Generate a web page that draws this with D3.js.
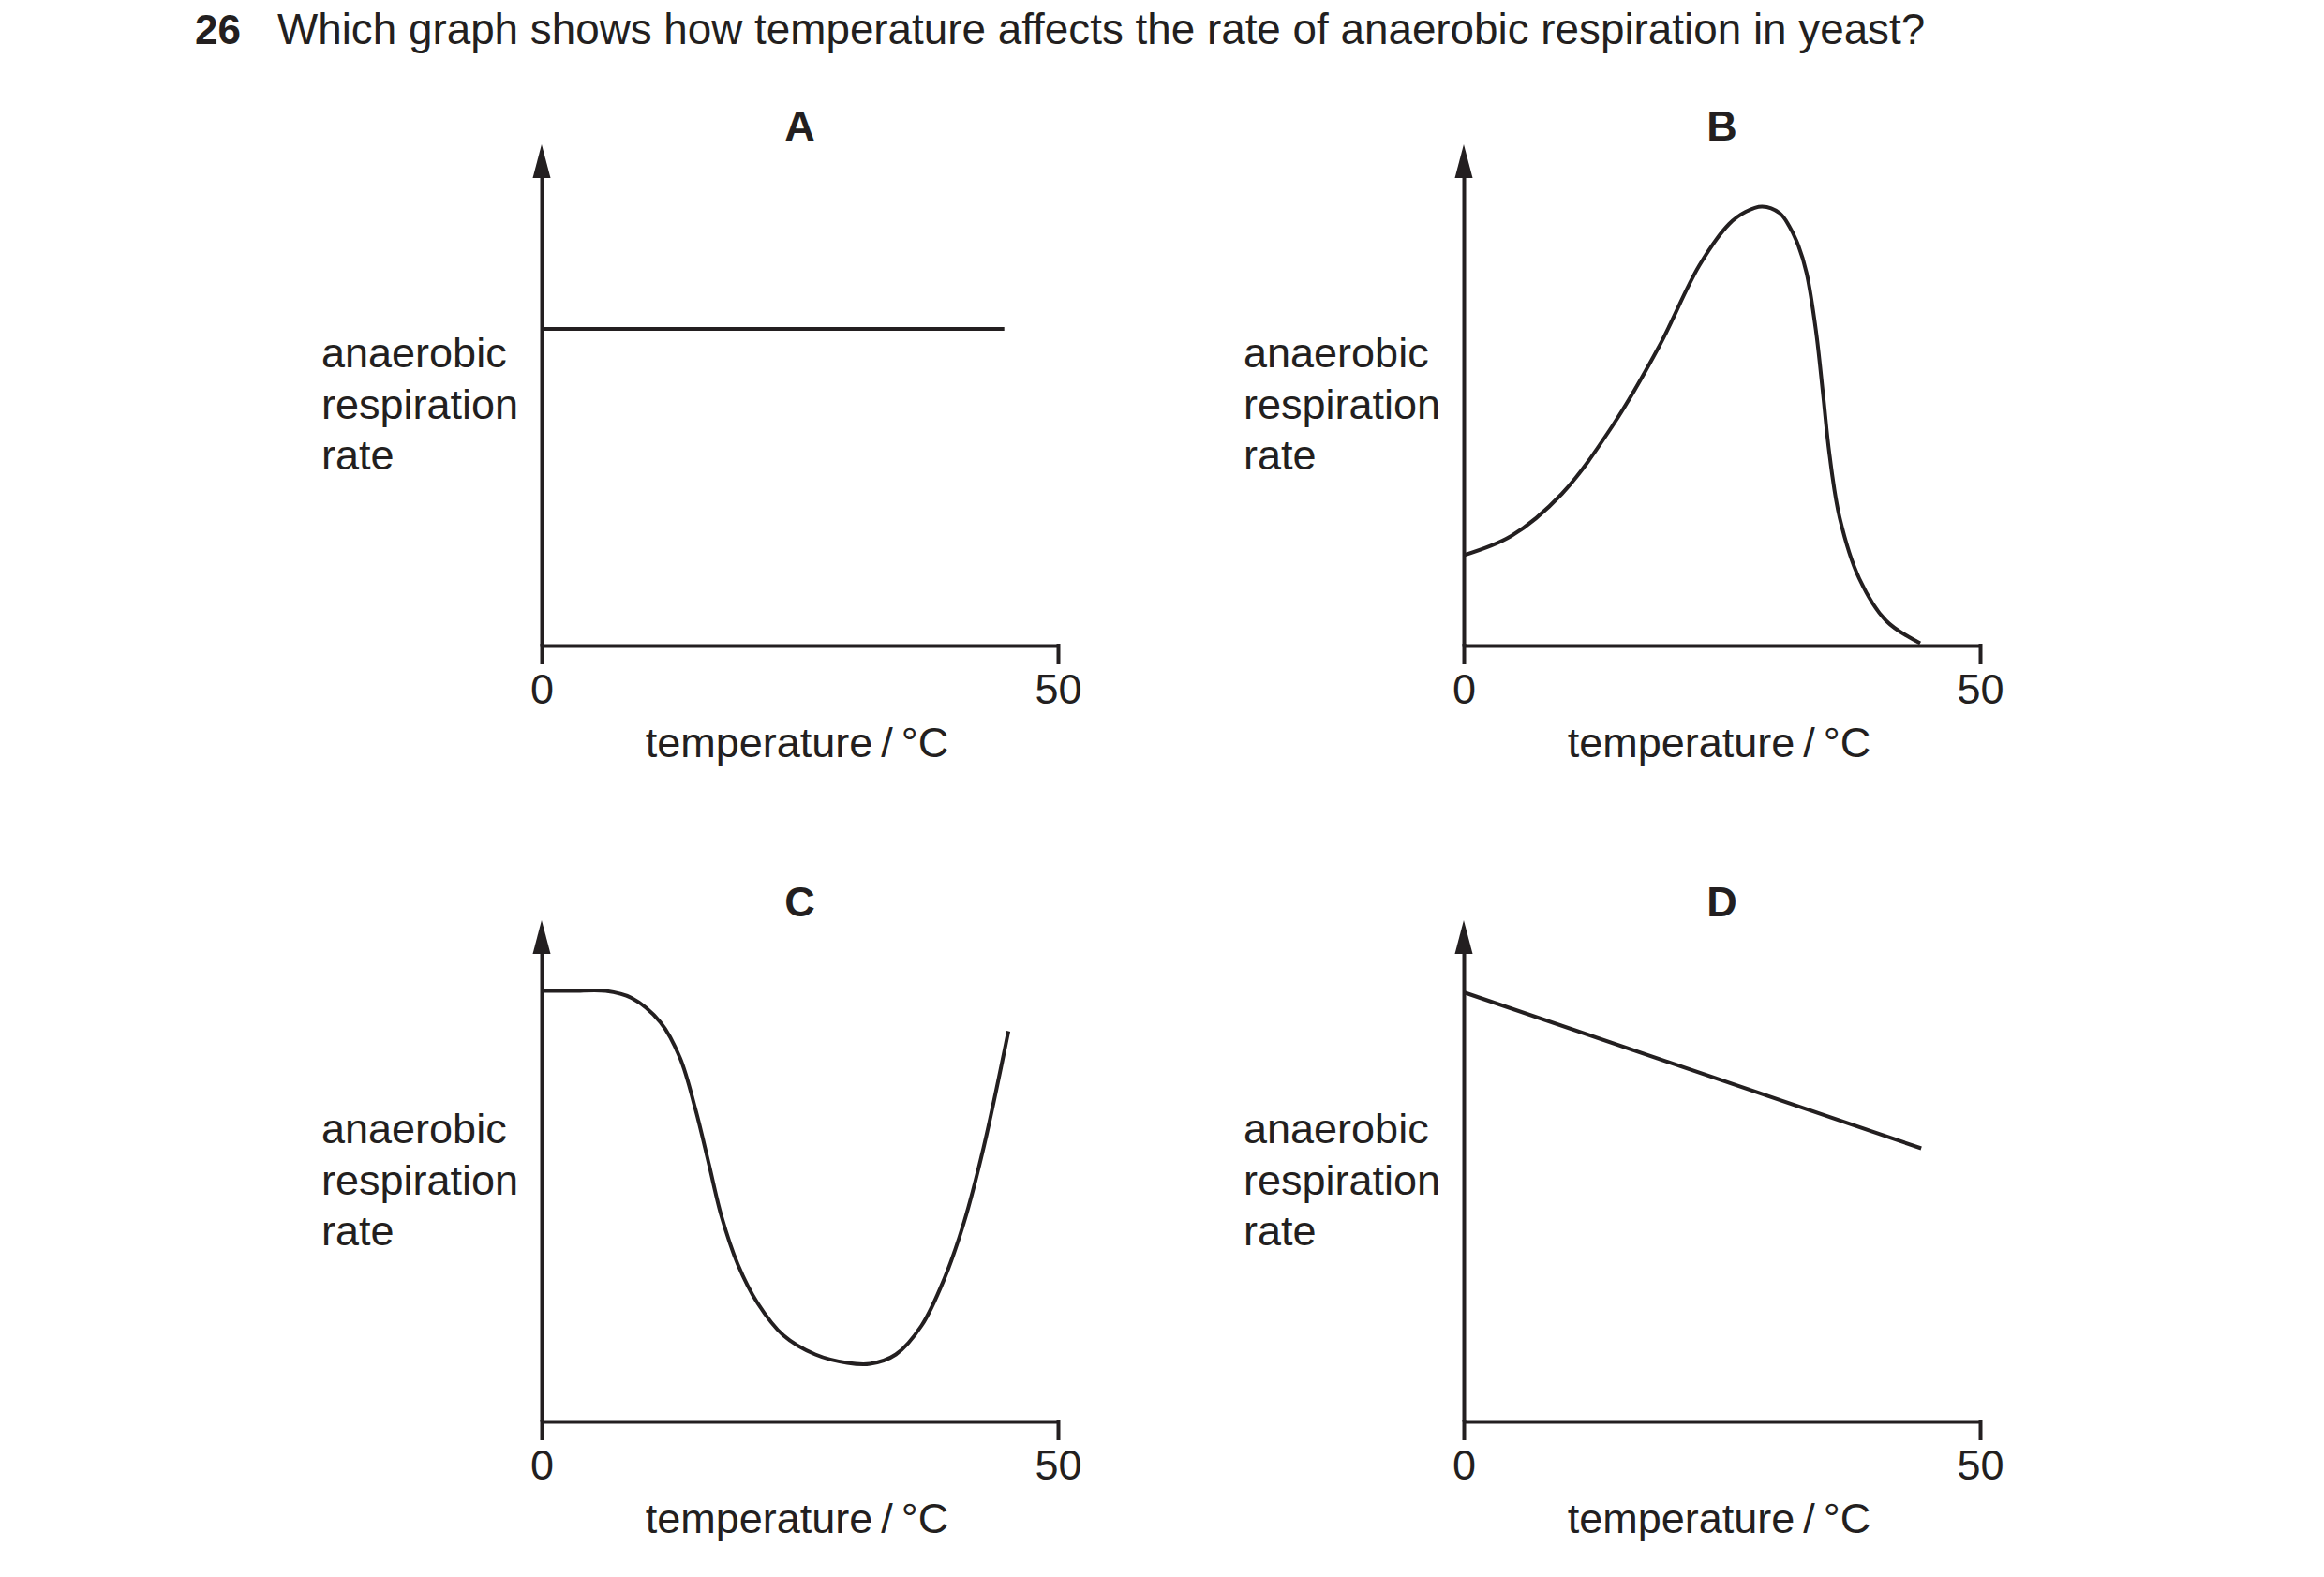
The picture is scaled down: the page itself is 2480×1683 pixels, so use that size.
<!DOCTYPE html>
<html>
<head>
<meta charset="utf-8">
<script src="https://cdn.jsdelivr.net/npm/d3@7"></script>
<style>
  body { margin: 0; background: #fff; }
  svg { display: block; font-family: "Liberation Sans", Arial, sans-serif; }
</style>
</head>
<body>
<svg id="chart"></svg>
<script>
// values: temperature in °C, rate in arbitrary units (0-100 = axis height)
var tempA = [0, 44.8]
var rateA = [67.6, 67.6]

var tempB = [0, 4.6, 9.5, 14.4, 18.9, 22.8, 25.7, 27.3, 28.9, 30.6, 31.5, 32.4, 33.2, 34.1, 34.8, 35.4, 36.4, 38.3, 40.9, 44.2]
var rateB = [19.3, 23.4, 32.4, 46.9, 63.8, 81.1, 90.0, 92.6, 93.7, 92.3, 89.6, 85.4, 79.5, 67.3, 53.5, 41.1, 27.3, 14.3, 5.3, 0.5]

var tempC = [0, 3, 6.2, 8.7, 11.5, 13.4, 14.9, 16.2, 17.4, 19.0, 20.9, 23.4, 26.5, 29.6, 31.8, 34.3, 36.8, 39.0, 40.9, 42.8, 45.2]
var rateC = [91.9, 91.9, 91.9, 90.4, 85.2, 77.6, 66.6, 54.9, 43.9, 33.5, 25.3, 18.4, 14.3, 12.5, 12.3, 14.3, 20.5, 30.5, 42.5, 58.5, 83.3]

var tempD = [0, 44.3]
var rateD = [91.6, 58.3]

var panelLetters = ["A", "B", "C", "D"]
var xTicks = [0, 50]
var yLabelLines = ["anaerobic", "respiration", "rate"]
var xLabel = "temperature\u2009/\u2009°C"
var questionNumber = "26"
var questionText = "Which graph shows how temperature affects the rate of anaerobic respiration in yeast?"

var ink = "#231f20"

var dimensions = {
    width: 2480,
    height: 1683,
    panelWidth: 551,
    panelHeight: 500,
    origins: [[578, 689], [1562, 689], [578, 1517], [1562, 1517]]
}

var svg = d3.select("#chart")
    .attr("width", dimensions.width)
    .attr("height", dimensions.height)

// question heading
svg.append("text")
    .attr("x", 208).attr("y", 47)
    .attr("font-size", 44).attr("font-weight", "bold")
    .attr("fill", ink)
    .text(questionNumber)

svg.append("text")
    .attr("x", 296).attr("y", 47)
    .attr("font-size", 45.8)
    .attr("fill", ink)
    .text(questionText)

var panels = [
    {temps: tempA, rates: rateA, curve: d3.curveLinear},
    {temps: tempB, rates: rateB, curve: d3.curveCatmullRom.alpha(0.5)},
    {temps: tempC, rates: rateC, curve: d3.curveCatmullRom.alpha(0.5)},
    {temps: tempD, rates: rateD, curve: d3.curveLinear}
]

panels.forEach(function (p, i) {
    var ox = dimensions.origins[i][0]
    var oy = dimensions.origins[i][1]

    var g = svg.append("g")
        .attr("transform", "translate(" + ox + "," + (oy - dimensions.panelHeight) + ")")

    var xScale = d3.scaleLinear()
        .domain([0, 50])
        .range([0, dimensions.panelWidth])

    var yScale = d3.scaleLinear()
        .domain([0, 100])
        .range([dimensions.panelHeight, 0])

    // y axis: plain line with arrow head
    var yAxis = g.append("g")
        .call(d3.axisLeft(yScale).tickValues([]).tickSizeOuter(0))
    yAxis.select(".domain")
        .attr("stroke", ink).attr("stroke-width", 4)

    g.append("path")
        .attr("d", "M" + xScale(0) + "," + (yScale(100) - 35) +
                   "L" + (xScale(0) + 9.5) + "," + (yScale(100) + 1) +
                   "L" + (xScale(0) - 9.5) + "," + (yScale(100) + 1) + "Z")
        .attr("fill", ink)

    // x axis with ticks at 0 and 50
    var xAxis = g.append("g")
        .attr("transform", "translate(0," + dimensions.panelHeight + ")")
        .call(d3.axisBottom(xScale).tickValues(xTicks).tickSize(20).tickSizeOuter(0).tickPadding(10))
    xAxis.attr("font-family", null).attr("font-size", null)
    xAxis.select(".domain")
        .attr("stroke", ink).attr("stroke-width", 4)
    xAxis.selectAll(".tick line")
        .attr("stroke", ink).attr("stroke-width", 4)
        .attr("y1", -2)
    xAxis.selectAll(".tick text")
        .attr("font-size", 45)
        .attr("fill", ink)

    // the curve
    var line = d3.line()
        .x(function (d, j) { return xScale(p.temps[j]) })
        .y(function (d, j) { return yScale(p.rates[j]) })
        .curve(p.curve)

    g.append("path")
        .datum(p.temps)
        .attr("d", line)
        .attr("fill", "none")
        .attr("stroke", ink)
        .attr("stroke-width", 4)

    // panel letter
    g.append("text")
        .attr("x", xScale(25))
        .attr("y", dimensions.panelHeight - 539)
        .attr("text-anchor", "middle")
        .attr("font-size", 45).attr("font-weight", "bold")
        .attr("fill", ink)
        .text(panelLetters[i])

    // y label
    g.append("g")
        .selectAll("text")
        .data(yLabelLines)
        .enter()
        .append("text")
        .attr("x", xScale(0) - 235)
        .attr("y", function (d, j) { return dimensions.panelHeight - 297 + j * 54.5 })
        .attr("font-size", 45)
        .attr("fill", ink)
        .text(function (d) { return d })

    // x label
    g.append("text")
        .attr("x", xScale(25) - 3)
        .attr("y", dimensions.panelHeight + 119)
        .attr("text-anchor", "middle")
        .attr("font-size", 45)
        .attr("fill", ink)
        .text(xLabel)
})
</script>
</body>
</html>
